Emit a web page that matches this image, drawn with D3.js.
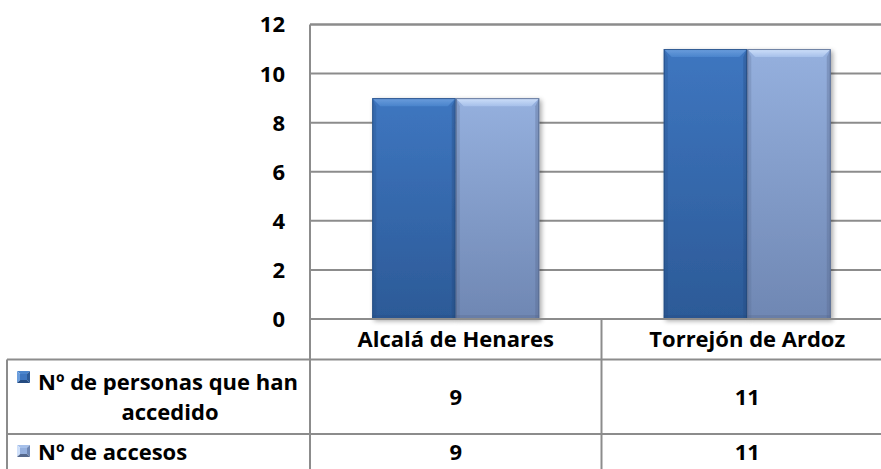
<!DOCTYPE html>
<html><head><meta charset="utf-8">
<script src="https://cdn.jsdelivr.net/npm/d3@7"></script>
<style>html,body{margin:0;padding:0;background:#fff;}svg{display:block;}</style>
</head><body>
<svg id="c" width="881" height="469"></svg>
<script>
const categories = ["Alcalá de Henares", "Torrejón de Ardoz"];
const seriesNames = ["Nº de personas que han accedido", "Nº de accesos"];
const seriesLegendLines = [["Nº de personas que han", "accedido"], ["Nº de accesos"]];
const personas = [9, 11];
const accesos = [9, 11];
const yTicks = [0, 2, 4, 6, 8, 10, 12];

const seriesValues = [personas, accesos];
const svg = d3.select("#c");
const W = 881, H = 469;
const plotL = 310, plotR = 893, plotT = 24.5, plotB = 319;
const font = "'Open Sans', sans-serif";
const fs = 22;
const gridCol = "#8c8c8c";

const y = d3.scaleLinear().domain([0, 12]).range([plotB, plotT]);
const x0 = d3.scaleBand().domain(categories).range([plotL, plotR]).paddingInner(0.427).paddingOuter(0.2135);
const x1 = d3.scaleBand().domain(d3.range(seriesNames.length)).range([0, x0.bandwidth()]).padding(0);
const xCol = d3.scaleBand().domain(categories).range([plotL, plotR]).padding(0);

const defs = svg.append("defs");
const pal = [
  {top:"#3e76c0", bot:"#2c5a97", bev:"#6c9edd", bev2:"#4a84cc", edge:"#244b80"},
  {top:"#95b0de", bot:"#6f87b3", bev:"#cfe0fa", bev2:"#a6c0ea", edge:"#55688c"}
];
pal.forEach((p,i)=>{
  const g = defs.append("linearGradient").attr("id","body"+i).attr("x1",0).attr("y1",0).attr("x2",0).attr("y2",1);
  g.append("stop").attr("offset","0%").attr("stop-color",p.top);
  g.append("stop").attr("offset","100%").attr("stop-color",p.bot);
  const b = defs.append("linearGradient").attr("id","bev"+i).attr("x1",0).attr("y1",0).attr("x2",0).attr("y2",1);
  b.append("stop").attr("offset","0%").attr("stop-color",p.bev);
  b.append("stop").attr("offset","100%").attr("stop-color",p.bev2);
});
const f = defs.append("filter").attr("id","shadow").attr("x","-20%").attr("y","-20%").attr("width","140%").attr("height","140%");
f.append("feGaussianBlur").attr("in","SourceAlpha").attr("stdDeviation",2.5);
f.append("feOffset").attr("dx",2).attr("dy",2).attr("result","ob");
f.append("feComponentTransfer").append("feFuncA").attr("type","linear").attr("slope",0.35);
const fm = f.append("feMerge"); fm.append("feMergeNode"); fm.append("feMergeNode").attr("in","SourceGraphic");

// gridlines
svg.append("g").selectAll("line").data(yTicks).join("line")
  .attr("x1", plotL).attr("x2", W).attr("y1", d=>y(d)).attr("y2", d=>y(d))
  .attr("stroke", gridCol).attr("stroke-width", 2);

// y labels
svg.append("g").selectAll("text").data(yTicks).join("text")
  .attr("x", 285).attr("y", d=>y(d)).attr("dy","0.36em").attr("text-anchor","end")
  .attr("font-family", font).attr("font-weight", 700).attr("font-size", fs).attr("fill","#000")
  .text(d=>d);

// bars
const groups = svg.append("g").selectAll("g").data(categories).join("g")
  .attr("transform", c=>`translate(${x0(c)},0)`);
groups.each(function(c, ci){
  const g = d3.select(this);
  seriesValues.forEach((vals, si)=>{
    const bx = x1(si), bw = x1.bandwidth(), by = y(vals[ci]), bh = plotB - y(vals[ci]);
    const bg = g.append("g").attr("filter","url(#shadow)");
    bg.append("rect").attr("x",bx).attr("y",by).attr("width",bw).attr("height",bh).attr("fill",`url(#body${si})`);
    const bv = 8;
    bg.append("path").attr("d",`M${bx},${by}L${bx+bw},${by}L${bx+bw-bv},${by+bv}L${bx+bv},${by+bv}Z`).attr("fill",`url(#bev${si})`);
    bg.append("path").attr("d",`M${bx},${by}L${bx+bv*0.5},${by+bv}L${bx+bv*0.5},${by+bh}L${bx},${by+bh}Z`).attr("fill",pal[si].edge).attr("opacity",0.25);
    bg.append("path").attr("d",`M${bx+bw},${by}L${bx+bw-bv*0.5},${by+bv}L${bx+bw-bv*0.5},${by+bh}L${bx+bw},${by+bh}Z`).attr("fill",pal[si].edge).attr("opacity",0.35);
    bg.append("rect").attr("x",bx).attr("y",plotB-4).attr("width",bw).attr("height",4).attr("fill",pal[si].edge).attr("opacity",0.3);
    bg.append("rect").attr("x",bx+0.5).attr("y",by+0.5).attr("width",bw-1).attr("height",bh-1).attr("fill","none").attr("stroke",pal[si].edge).attr("stroke-width",1).attr("opacity",0.8);
  });
});

// table lines
const tbl = svg.append("g").attr("stroke", gridCol).attr("stroke-width", 2);
const rowY = [plotB, 359.5, 434];
tbl.append("line").attr("x1", plotL).attr("x2", W).attr("y1", rowY[0]).attr("y2", rowY[0]);
tbl.append("line").attr("x1", 7).attr("x2", W).attr("y1", rowY[1]).attr("y2", rowY[1]);
tbl.append("line").attr("x1", 7).attr("x2", W).attr("y1", rowY[2]).attr("y2", rowY[2]);
tbl.append("line").attr("x1", 7).attr("x2", 7).attr("y1", rowY[1]).attr("y2", H);
tbl.append("line").attr("x1", plotL).attr("x2", plotL).attr("y1", plotT).attr("y2", H);
categories.forEach(c=>{
  const xr = xCol(c) + xCol.bandwidth();
  if (xr < W) tbl.append("line").attr("x1", xr).attr("x2", xr).attr("y1", plotB).attr("y2", H);
});
svg.append("line").attr("x1", plotL).attr("x2", W).attr("y1", plotT).attr("y2", plotT).attr("stroke", gridCol).attr("stroke-width", 2);

// category labels
svg.append("g").selectAll("text").data(categories).join("text")
  .attr("x", c=>x0(c)+x0.bandwidth()/2).attr("y", (rowY[0]+rowY[1])/2).attr("dy","0.36em")
  .attr("text-anchor","middle").attr("font-family",font).attr("font-weight",700).attr("font-size",fs)
  .text(c=>c);

// data values
const rowCenters = [(rowY[1]+rowY[2])/2, 452];
seriesValues.forEach((vals, si)=>{
  svg.append("g").selectAll("text").data(categories).join("text")
    .attr("x", c=>x0(c)+x0.bandwidth()/2).attr("y", rowCenters[si]).attr("dy","0.36em")
    .attr("text-anchor","middle").attr("font-family",font).attr("font-weight",700).attr("font-size",fs)
    .text((c,ci)=>vals[ci]);
});

// legend cells
const legTextX = 38;
const markerCY = [377, 451];
seriesLegendLines.forEach((lines, si)=>{
  const firstY = si===0 ? 382 : 452;
  const ms = 13, mh = 12, mx = 17, my = markerCY[si] - mh/2;
  const p = pal[si];
  const mg = svg.append("g");
  const cx = mx + ms/2, cy = my + mh/2;
  mg.append("path").attr("d",`M${mx},${my}L${mx+ms},${my}L${cx},${cy}Z`).attr("fill",p.bev2);
  mg.append("path").attr("d",`M${mx},${my}L${cx},${cy}L${mx},${my+mh}Z`).attr("fill",p.bev);
  mg.append("path").attr("d",`M${mx+ms},${my}L${cx},${cy}L${mx+ms},${my+mh}Z`).attr("fill",p.bot);
  mg.append("path").attr("d",`M${mx},${my+mh}L${cx},${cy}L${mx+ms},${my+mh}Z`).attr("fill",p.edge);
  mg.append("rect").attr("x",mx+3).attr("y",my+3).attr("width",ms-6).attr("height",mh-6).attr("fill",p.top);
  lines.forEach((ln, li)=>{
    svg.append("text")
      .attr("x", li===0 ? legTextX : (legTextX + 302)/2)
      .attr("y", firstY + li*30).attr("dy","0.36em")
      .attr("text-anchor", li===0 ? "start" : "middle")
      .attr("font-family",font).attr("font-weight",700).attr("font-size",fs)
      .text(ln);
  });
});
</script>
</body></html>
